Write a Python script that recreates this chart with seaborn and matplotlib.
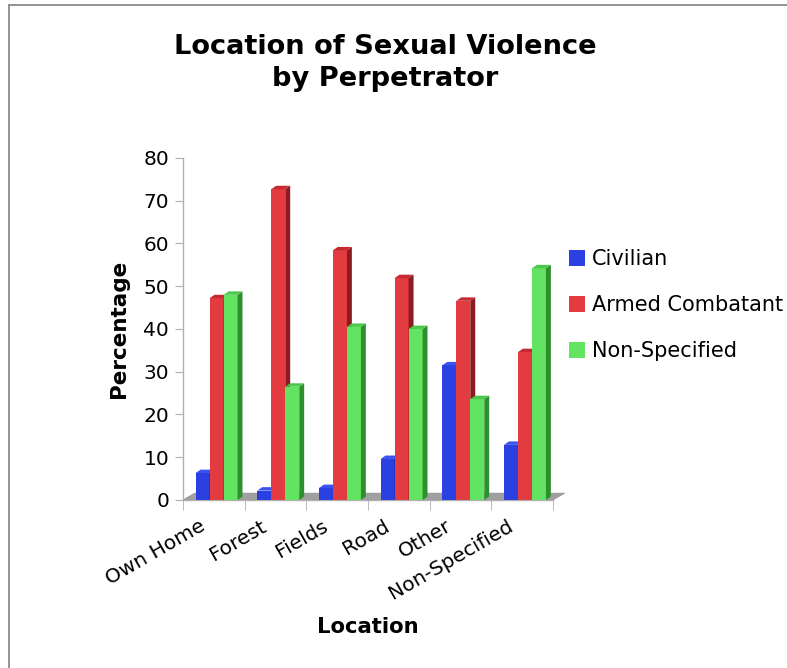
"""
Location of sexual violence by perpetrator - clustered 3D-style bar chart
"""
import numpy as np
import pandas as pd
import matplotlib
matplotlib.use('Agg')
import matplotlib.pyplot as plt
import matplotlib.transforms as mtransforms
from matplotlib.patches import Polygon
from matplotlib.lines import Line2D
import seaborn as sns

# Data
LOCATIONS = ['Own Home', 'Forest', 'Fields', 'Road', 'Other', 'Non-Specified']
PERPETRATORS = ['Civilian', 'Armed Combatant', 'Non-Specified']
civilian = [6.3, 2.2, 2.8, 9.6, 31.5, 12.9]
armed = [47.2, 72.7, 58.4, 51.9, 46.6, 34.6]
non_specified = [48.0, 26.5, 40.5, 40.0, 23.6, 54.2]

FRONT = ['#2b40e0', '#e23b40', '#62e462']
SIDE = ['#1a2790', '#8c1a1e', '#2f8f2f']
TOP = ['#3a52f0', '#c52a30', '#4cc84c']

df = pd.DataFrame({
    'Location': LOCATIONS * 3,
    'Perpetrator': np.repeat(PERPETRATORS, len(LOCATIONS)),
    'Percentage': civilian + armed + non_specified,
})

sns.set_style('white')
plt.rcParams['font.family'] = ['DejaVu Sans']
plt.rcParams['text.color'] = 'black'
plt.rcParams['axes.labelcolor'] = 'black'
plt.rcParams['xtick.color'] = 'black'
plt.rcParams['ytick.color'] = 'black'

fig = plt.figure(figsize=(7.87, 6.68), dpi=100)
ax = fig.add_axes([0.2325, 0.2515, 0.4702, 0.512])

sns.barplot(data=df, x='Location', y='Percentage', hue='Perpetrator',
            hue_order=PERPETRATORS, palette=FRONT, width=0.68,
            saturation=1, ax=ax, legend=False, linewidth=0)

ax.set_xlim(-0.5, len(LOCATIONS) - 0.5)
ax.set_ylim(0, 80)

# 3D depth for the bars, derived from the bar geometry
dx, dy = 0.08, 0.8
shift = 0.045
for i, container in enumerate(ax.containers):
    for bar in container:
        bar.set_x(bar.get_x() + shift)
        x0 = bar.get_x()
        w = bar.get_width()
        h = bar.get_height()
        z = 3 + i
        bar.set_zorder(z)
        side = Polygon([(x0 + w, 0), (x0 + w + dx, dy), (x0 + w + dx, h + dy), (x0 + w, h)],
                       closed=True, facecolor=SIDE[i], edgecolor='none', zorder=z, clip_on=False)
        top = Polygon([(x0, h), (x0 + dx, h + dy), (x0 + w + dx, h + dy), (x0 + w, h)],
                      closed=True, facecolor=TOP[i], edgecolor='none', zorder=z, clip_on=False)
        ax.add_patch(side)
        ax.add_patch(top)

# floor slab
fdx, fdy = 0.19, 1.6
floor = Polygon([(-0.5, 0), (len(LOCATIONS) - 0.5, 0),
                 (len(LOCATIONS) - 0.5 + fdx, fdy), (-0.5 + fdx, fdy)],
                closed=True, facecolor='#a0a0a0', edgecolor='#909090', lw=0.5,
                zorder=2, clip_on=False)
ax.add_patch(floor)

# axes styling
for s in ['top', 'right']:
    ax.spines[s].set_visible(False)
ax.spines['left'].set_color('#b0b0b0')
ax.spines['bottom'].set_color('#b0b0b0')
ax.spines['left'].set_linewidth(1)
ax.spines['bottom'].set_linewidth(1)

ax.set_yticks(range(0, 81, 10))
ax.tick_params(axis='y', labelsize=14.5, length=6, color='#b0b0b0', pad=4, left=True)
ax.set_xticks(range(len(LOCATIONS)))
ax.set_xticklabels(LOCATIONS, rotation=30, ha='right', rotation_mode='anchor', fontsize=14.5)
ax.tick_params(axis='x', length=0, pad=12)
offset = mtransforms.ScaledTranslation(-15 / 100, 0, fig.dpi_scale_trans)
for lbl in ax.get_xticklabels():
    lbl.set_transform(lbl.get_transform() + offset)
# boundary ticks between categories
ax.set_xticks(np.arange(-0.5, len(LOCATIONS)), minor=True)
ax.tick_params(axis='x', which='minor', length=7, color='#b0b0b0', bottom=True)

ax.set_xlabel('Location', fontsize=15.2, fontweight='bold', labelpad=10)
ax.set_ylabel('Percentage', fontsize=15.5, fontweight='bold', labelpad=10)

fig.text(0.489, 0.906, 'Location of Sexual Violence\nby Perpetrator', ha='center', va='center',
         fontsize=19.6, fontweight='bold', linespacing=1.3)

handles = [plt.Rectangle((0, 0), 1, 1, facecolor=c, edgecolor='none') for c in FRONT]
fig.legend(handles, PERPETRATORS, loc='upper left', bbox_to_anchor=(0.712, 0.64),
           frameon=False, fontsize=15, handlelength=0.8, handleheight=0.8,
           handletextpad=0.3, labelspacing=1.25, borderaxespad=0)

# frame lines at top and left of the picture
fig.add_artist(Line2D([9 / 787, 1], [1 - 5 / 668, 1 - 5 / 668], color='#808080', lw=1.2,
                      transform=fig.transFigure))
fig.add_artist(Line2D([9 / 787, 9 / 787], [0, 1 - 5 / 668], color='#808080', lw=1.2,
                      transform=fig.transFigure))

plt.savefig('out.png', dpi=100)
plt.close()
